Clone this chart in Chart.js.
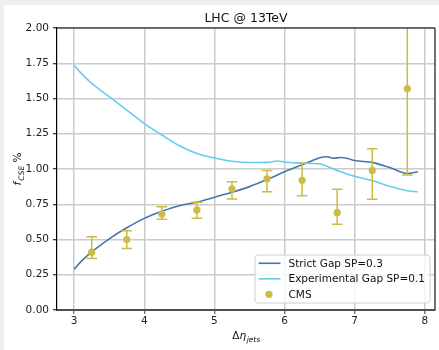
<!DOCTYPE html>
<html>
<head>
<meta charset="utf-8">
<script src="https://cdn.jsdelivr.net/npm/chart.js@4/dist/chart.umd.min.js"></script>
<style>
  html, body { margin: 0; padding: 0; background: #f0f0f0; }
  body { width: 439px; height: 350px; position: relative; overflow: hidden; }
  #wrap { position: absolute; left: 4px; top: 5px; width: 435px; height: 345px; background: #fff; }
</style>
</head>
<body>
<div id="wrap"><canvas id="cseChart" width="435" height="345"></canvas></div>
<script>
// values
const strictEta = [3.0, 3.1, 3.25, 3.5, 3.75, 4.0, 4.25, 4.5, 4.75, 5.0, 5.25, 5.5, 5.75, 6.0, 6.25, 6.4, 6.5, 6.6, 6.7, 6.8, 6.9, 7.0, 7.25, 7.5, 7.75, 7.9];
const strictF   = [0.289, 0.345, 0.412, 0.505, 0.583, 0.65, 0.70, 0.74, 0.765, 0.80, 0.835, 0.875, 0.925, 0.98, 1.03, 1.06, 1.08, 1.087, 1.076, 1.082, 1.075, 1.06, 1.047, 1.01, 0.968, 0.98];

const expEta = [3.0, 3.1, 3.25, 3.5, 3.75, 4.0, 4.25, 4.5, 4.75, 5.0, 5.25, 5.5, 5.75, 5.9, 6.0, 6.25, 6.5, 6.6, 6.75, 7.0, 7.25, 7.5, 7.75, 7.9];
const expF   = [1.735, 1.678, 1.608, 1.513, 1.418, 1.322, 1.241, 1.165, 1.11, 1.078, 1.055, 1.046, 1.047, 1.057, 1.05, 1.042, 1.037, 1.02, 0.99, 0.948, 0.918, 0.877, 0.846, 0.839];

const cmsEta  = [3.25, 3.75, 4.25, 4.75, 5.25, 5.75, 6.25, 6.75, 7.25, 7.75];
const cmsF    = [0.41, 0.50, 0.68, 0.71, 0.86, 0.93, 0.92, 0.69, 0.99, 1.57];
const cmsLow  = [0.365, 0.437, 0.643, 0.65, 0.787, 0.839, 0.81, 0.608, 0.785, 0.957];
const cmsHigh = [0.52, 0.562, 0.733, 0.764, 0.91, 0.99, 1.04, 0.856, 1.144, 2.18];

const xTicks = [3, 4, 5, 6, 7, 8];
const seriesNames = ["Strict Gap SP=0.3", "Experimental Gap SP=0.1", "CMS"];
const titleText = "LHC @ 13TeV";

const BLUE = "#4477AA", CYAN = "#66CCEE", OLIVE = "#CCBB44";
const FONT = "DejaVu Sans";

const pts = (xs, ys) => xs.map((x, i) => ({ x: x, y: ys[i] }));

// error bars for the CMS points, drawn just under its markers
const errorBars = {
  id: "errorBars",
  beforeDatasetDraw(chart, args) {
    if (args.index !== 2) return;
    const { ctx, chartArea, scales } = chart;
    ctx.save();
    ctx.beginPath();
    ctx.rect(chartArea.left, chartArea.top, chartArea.right - chartArea.left, chartArea.bottom - chartArea.top);
    ctx.clip();
    ctx.strokeStyle = OLIVE;
    ctx.lineWidth = 1.5;
    cmsEta.forEach((x, i) => {
      const px = scales.x.getPixelForValue(x);
      const y0 = scales.y.getPixelForValue(cmsLow[i]);
      const y1 = scales.y.getPixelForValue(cmsHigh[i]);
      ctx.beginPath();
      ctx.moveTo(px, y0); ctx.lineTo(px, y1);
      ctx.moveTo(px - 5.3, y0); ctx.lineTo(px + 5.3, y0);
      ctx.moveTo(px - 5.3, y1); ctx.lineTo(px + 5.3, y1);
      ctx.stroke();
    });
    ctx.restore();
  }
};

// spines, title, axis labels with subscripts, legend box
const decor = {
  id: "decor",
  afterDraw(chart) {
    const { ctx, chartArea: a } = chart;
    ctx.save();
    // top + right spines
    ctx.lineWidth = 1.2;
    ctx.strokeStyle = "#000";
    ctx.beginPath(); ctx.moveTo(a.left, a.top); ctx.lineTo(a.right, a.top); ctx.stroke();
    ctx.strokeStyle = "#444";
    ctx.lineWidth = 1.5;
    ctx.beginPath(); ctx.moveTo(a.right, a.top); ctx.lineTo(a.right, a.bottom); ctx.stroke();

    // title
    ctx.fillStyle = "#111";
    ctx.font = "12.5px '" + FONT + "'";
    ctx.textAlign = "center";
    ctx.textBaseline = "alphabetic";
    const cx = (a.left + a.right) / 2;
    ctx.fillText(titleText, cx, 17);

    // x label: Δη_jets
    const main = "10.5px '" + FONT + "'";
    const ital = "italic 10.5px '" + FONT + "'";
    const sub = "italic 7.5px '" + FONT + "'";
    ctx.textAlign = "left";
    ctx.font = main; const wD = ctx.measureText("Δ").width;
    ctx.font = ital; const wE = ctx.measureText("η").width;
    ctx.font = sub; const wS = ctx.measureText("jets").width;
    let x0 = cx - (wD + wE + wS) / 2;
    const yb = 334;
    ctx.font = main; ctx.fillText("Δ", x0, yb);
    ctx.font = ital; ctx.fillText("η", x0 + wD, yb);
    ctx.font = sub; ctx.fillText("jets", x0 + wD + wE + 0.5, yb + 2.5);

    // y label: f_CSE %
    ctx.save();
    ctx.translate(17, (a.top + a.bottom) / 2);
    ctx.rotate(-Math.PI / 2);
    ctx.font = ital; const wf = ctx.measureText("f").width;
    ctx.font = sub; const wc = ctx.measureText("CSE").width;
    ctx.font = main; const wp = ctx.measureText(" %").width;
    x0 = -(wf + wc + wp + 1) / 2;
    ctx.font = ital; ctx.fillText("f", x0, 0);
    ctx.font = sub; ctx.fillText("CSE", x0 + wf + 1, 2.5);
    ctx.font = main; ctx.fillText(" %", x0 + wf + wc + 1, 0);
    ctx.restore();

    // legend
    const bw = 175, bh = 48;
    const bx = a.right - 5 - bw, by = a.bottom - 7 - bh;
    ctx.fillStyle = "rgba(255,255,255,0.8)";
    ctx.strokeStyle = "#d0d0d0";
    ctx.lineWidth = 1;
    ctx.beginPath();
    ctx.roundRect(bx, by, bw, bh, 3);
    ctx.fill(); ctx.stroke();
    const colors = [BLUE, CYAN, OLIVE];
    ctx.font = main;
    ctx.textBaseline = "middle";
    seriesNames.forEach((name, i) => {
      const ry = by + 8.3 + i * 15.5;
      if (i < 2) {
        ctx.strokeStyle = colors[i];
        ctx.lineWidth = 1.6;
        ctx.beginPath(); ctx.moveTo(bx + 3.5, ry); ctx.lineTo(bx + 25.5, ry); ctx.stroke();
      } else {
        ctx.fillStyle = colors[i];
        ctx.beginPath(); ctx.arc(bx + 14, ry, 3.6, 0, Math.PI * 2); ctx.fill();
      }
      ctx.fillStyle = "#111";
      ctx.fillText(name, bx + 33.5, ry + 0.5);
    });
    ctx.restore();
  }
};

new Chart(document.getElementById("cseChart"), {
  type: "scatter",
  data: {
    datasets: [
      { label: seriesNames[0], data: pts(strictEta, strictF), showLine: true,
        borderColor: BLUE, borderWidth: 1.6, pointRadius: 0, cubicInterpolationMode: "monotone", order: 2 },
      { label: seriesNames[1], data: pts(expEta, expF), showLine: true,
        borderColor: CYAN, borderWidth: 1.6, pointRadius: 0, cubicInterpolationMode: "monotone", order: 1 },
      { label: seriesNames[2], data: pts(cmsEta, cmsF), showLine: false,
        backgroundColor: OLIVE, borderColor: OLIVE, borderWidth: 0, pointRadius: 3.6, order: 0 }
    ]
  },
  options: {
    responsive: false,
    animation: false,
    layout: { padding: { top: 23, right: 4, left: 0, bottom: 0 } },
    plugins: { legend: { display: false }, tooltip: { enabled: false } },
    scales: {
      x: {
        type: "linear", min: 2.755, max: 8.145,
        afterBuildTicks: (ax) => { ax.ticks = xTicks.map(v => ({ value: v })); },
        afterFit: (ax) => { ax.height = 40; },
        grid: { color: "#cbcbcb", lineWidth: 1.5, tickLength: 4, tickColor: "#444", tickWidth: 1 },
        border: { color: "#505050", width: 2 },
        ticks: { color: "#222", padding: 1, font: { family: FONT, size: 10.5 }, maxRotation: 0,
                 callback: (v) => String(v) }
      },
      y: {
        min: 0, max: 2,
        afterFit: (ax) => { ax.width = 53; },
        grid: { color: "#cbcbcb", lineWidth: 1.5, tickLength: 4, tickColor: "#000", tickWidth: 1 },
        border: { color: "#000", width: 1.2 },
        ticks: { stepSize: 0.25, color: "#222", padding: 4, font: { family: FONT, size: 10.5 },
                 callback: (v) => v.toFixed(2) }
      }
    }
  },
  plugins: [errorBars, decor]
});
</script>
</body>
</html>
